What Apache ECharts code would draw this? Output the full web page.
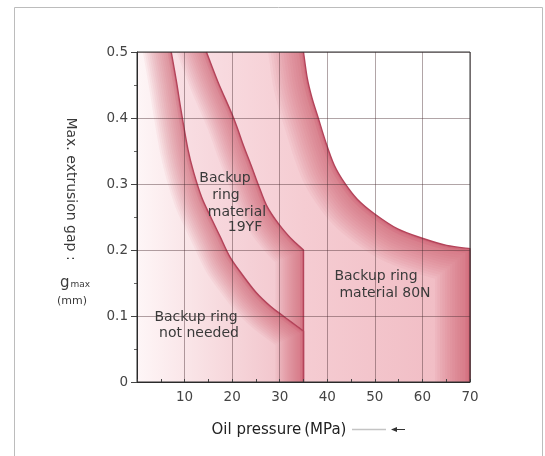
<!DOCTYPE html>
<html><head><meta charset="utf-8">
<script src="https://cdn.jsdelivr.net/npm/echarts/dist/echarts.min.js"></script>
<style>html,body{margin:0;padding:0;background:#fff}#c{width:545px;height:456px}</style>
</head><body><div id="c"></div>
<script>
// Axis ranges / ticks
const xMin = 0, xMax = 70, xStep = 10;
const yMin = 0, yMax = 0.5, yStep = 0.1;

// Boundary curve: "Backup ring not needed" (upper limit)
const curveA_x = [7.2, 8.3, 9.3, 10.7, 11.9, 13.6, 15.5, 17.5, 19.5, 22.0, 25.0, 28.0, 30.0, 32.6, 35.0];
const curveA_y = [0.50, 0.455, 0.41, 0.353, 0.318, 0.28, 0.25, 0.22, 0.19, 0.164, 0.136, 0.115, 0.104, 0.09, 0.077];

// Boundary curve: backup ring material 19YF
const curveB_x = [14.6, 17.0, 20.3, 22.4, 24.0, 25.6, 27.2, 29.0, 30.6, 32.7, 35.0];
const curveB_y = [0.50, 0.455, 0.40, 0.358, 0.328, 0.297, 0.268, 0.247, 0.232, 0.215, 0.20];
const limit19YF = 35;   // MPa pressure limit of 19YF

// Boundary curve: backup ring material 80N
const curveC_x = [35.0, 35.8, 36.8, 38.1, 39.7, 41.5, 43.6, 46.3, 49.9, 54.8, 60.3, 65.1, 70.0];
const curveC_y = [0.50, 0.46, 0.43, 0.40, 0.363, 0.328, 0.302, 0.277, 0.255, 0.232, 0.217, 0.207, 0.202];

const FONT = 'DejaVu Sans';
const TXT = '#3a3a3a';

function grad(stops) {
  return new echarts.graphic.LinearGradient(0, 0, 1, 0, stops.map(s => ({offset: s[0], color: s[1]})));
}
// region styles (drawn from the largest region to the smallest)
const regionStyles = [
  {xs: curveC_x, ys: curveC_y, right: xMax, rimScale: 1.25,
   fill: [[0, '#fbe8ec'], [0.5, '#f5ccd2'], [1, '#f0bac2']]},
  {xs: curveB_x, ys: curveB_y, right: limit19YF, rimScale: 1,
   fill: [[0, '#fbe7eb'], [1, '#f2c5cc']]},
  {xs: curveA_x, ys: curveA_y, right: limit19YF, rimScale: 1,
   fill: [[0, '#fef6f7'], [0.5, '#f7dade'], [1, '#f0bdc5']]}
];
const rimPasses = [];
for (let k = 1; k <= 14; k++) rimPasses.push([4 * k, 0.055]);
rimPasses.push([7, 0.12], [3, 0.2]);

function smoothThrough(p) {
  let d = '';
  for (let i = 0; i < p.length - 1; i++) {
    const p0 = p[i - 1] || p[i], p1 = p[i], p2 = p[i + 1], p3 = p[i + 2] || p[i + 1];
    const c1 = [p1[0] + (p2[0] - p0[0]) / 6, p1[1] + (p2[1] - p0[1]) / 6];
    const c2 = [p2[0] - (p3[0] - p1[0]) / 6, p2[1] - (p3[1] - p1[1]) / 6];
    d += ' C' + c1[0] + ',' + c1[1] + ' ' + c2[0] + ',' + c2[1] + ' ' + p2[0] + ',' + p2[1];
  }
  return d;
}
function P(p) { return p[0] + ',' + p[1]; }

function renderRegions(params, api) {
  const children = [];
  regionStyles.forEach(r => {
    const cp = r.xs.map((x, i) => api.coord([x, r.ys[i]]));
    const o = api.coord([xMin, yMin]), tl = api.coord([xMin, yMax]), br = api.coord([r.right, yMin]);
    // lead-in / lead-out beyond the plot frame so the clipped rim reaches the frame
    const dx = cp[0][0] - cp[1][0], dy = cp[0][1] - cp[1][1], dl = Math.hypot(dx, dy) || 1;
    const pre = [cp[0][0] + dx / dl * 80, cp[0][1] + dy / dl * 80];
    const post = [br[0], br[1] + 80];
    const curve = 'M' + P(cp[0]) + smoothThrough(cp) + ' L' + P(br);
    const rim = 'M' + P(pre) + ' L' + P(cp[0]) + smoothThrough(cp) + ' L' + P(br) + ' L' + P(post);
    const region = 'M' + P(o) + ' L' + P(tl) + ' L' + P(cp[0]) + smoothThrough(cp) + ' L' + P(br) + ' Z';
    const inner = [{type: 'path', shape: {pathData: region}, style: {fill: grad(r.fill), stroke: null}}];
    rimPasses.forEach(([w, a]) => inner.push({
      type: 'path', shape: {pathData: rim},
      style: {fill: 'none', stroke: 'rgba(196,70,96,' + a + ')', lineWidth: w * r.rimScale, lineJoin: 'round'}
    }));
    children.push({type: 'group', clipPath: {type: 'path', shape: {pathData: region}}, children: inner});
    children.push({type: 'path', shape: {pathData: curve},
      style: {fill: 'none', stroke: '#b4445a', lineWidth: 1.4, lineJoin: 'round'}});
  });
  return {type: 'group', children: children};
}

const chart = echarts.init(document.getElementById('c'), null, {renderer: 'canvas'});
const lbl = (text, x, y, size) => ({type: 'text', x: x, y: y, z: 20,
  style: {text: text, font: (size || 14) + 'px "DejaVu Sans", "Noto Sans CJK JP"', fill: TXT, align: 'center', verticalAlign: 'middle'}});
chart.setOption({
  animation: false,
  backgroundColor: '#fff',
  grid: {left: 137, right: 75, top: 52, bottom: 74, show: true, borderColor: '#333', borderWidth: 1, z: 10},
  xAxis: {
    type: 'value', min: xMin, max: xMax, interval: xStep, z: 5,
    axisLine: {lineStyle: {color: '#222', width: 1}},
    axisTick: {show: true, inside: true, length: 3, lineStyle: {color: '#444'}},
    minorTick: {show: true, splitNumber: 2, length: 3, lineStyle: {color: '#444'}},
    axisLabel: {color: '#444', fontFamily: FONT, fontSize: 13.5, margin: 8,
      formatter: v => v === 0 ? '' : String(v)},
    splitLine: {show: true, lineStyle: {color: 'rgba(70,40,45,0.42)', width: 1}}
  },
  yAxis: {
    type: 'value', min: yMin, max: yMax, interval: yStep, z: 5,
    axisLine: {show: true, lineStyle: {color: '#222', width: 1}},
    axisTick: {show: true, length: 6, lineStyle: {color: '#444'}},
    minorTick: {show: true, splitNumber: 2, length: 3, lineStyle: {color: '#666'}},
    axisLabel: {color: '#444', fontFamily: FONT, fontSize: 13.5, margin: 9,
      formatter: v => v === 0 ? '0' : v.toFixed(1)},
    splitLine: {show: true, lineStyle: {color: 'rgba(70,40,45,0.42)', width: 1}}
  },
  series: [{
    type: 'custom', silent: true, coordinateSystem: 'cartesian2d',
    data: [[xMin, yMin]], renderItem: renderRegions, z: 2
  }],
  graphic: [
    {type: 'rect', silent: true, shape: {x: 14.5, y: 7.5, width: 528, height: 470},
      style: {fill: 'none', stroke: '#bcbcbc', lineWidth: 1}},
    {type: 'text', x: 71, y: 189, rotation: -Math.PI / 2,
      style: {text: 'Max. extrusion gap :', font: '14px "DejaVu Sans"', fill: TXT, align: 'center', verticalAlign: 'middle'}},
    {type: 'text', x: 75, y: 283,
      style: {text: '{g|g}{s|max}', align: 'center', verticalAlign: 'middle',
        rich: {g: {fontFamily: FONT, fontSize: 15, fill: TXT, color: TXT},
               s: {fontFamily: FONT, fontSize: 9, fill: TXT, color: TXT, padding: [4, 0, 0, 1]}}}},
    {type: 'text', x: 72, y: 301,
      style: {text: '(mm)', font: '11px "DejaVu Sans"', fill: TXT, align: 'center', verticalAlign: 'middle'}},
    {type: 'text', x: 279, y: 430,
      style: {text: 'Oil pressure\u2009(MPa)', font: '15px "DejaVu Sans"', fill: '#222', align: 'center', verticalAlign: 'middle'}},
    {type: 'line', shape: {x1: 352, y1: 429.5, x2: 386, y2: 429.5}, style: {stroke: '#c4c4c4', lineWidth: 1.5}},
    {type: 'line', shape: {x1: 394, y1: 429.5, x2: 405, y2: 429.5}, style: {stroke: '#333', lineWidth: 1}},
    {type: 'polygon', shape: {points: [[391, 429.5], [397, 427], [397, 432]]}, style: {fill: '#333'}},
    lbl('Backup', 225, 178), lbl('ring', 226, 195), lbl('material', 237, 212), lbl('19YF', 245, 227),
    lbl('Backup ring', 376, 276), lbl('material 80N', 385, 293),
    lbl('Backup ring', 196, 317), lbl('not needed', 199, 333)
  ]
});
</script>
</body></html>
